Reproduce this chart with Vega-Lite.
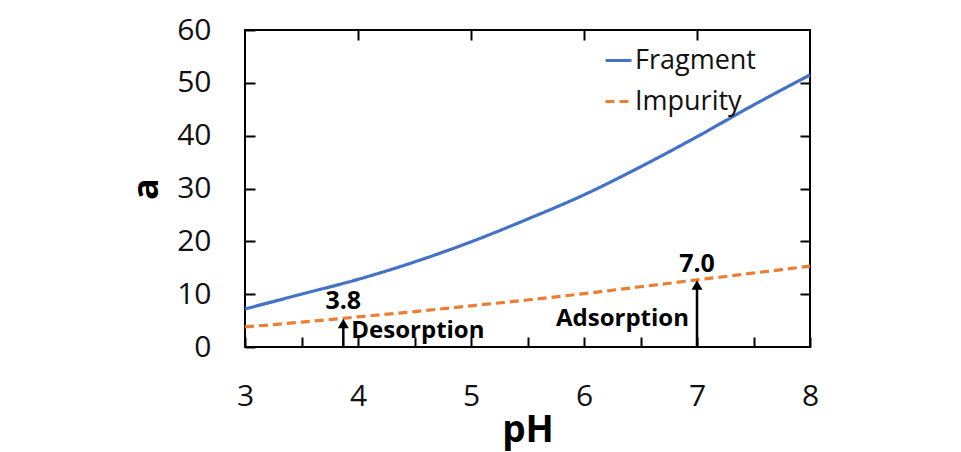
{
  "$schema": "https://vega.github.io/schema/vega-lite/v6.json",
  "width": 565,
  "height": 317,
  "autosize": {"type": "none"},
  "padding": {"left": 245, "top": 30, "right": 151, "bottom": 105},
  "background": "white",
  "config": {
    "view": {"stroke": "black", "strokeWidth": 2},
    "font": "Open Sans",
    "axis": {"grid": false, "domain": false, "tickColor": "black", "tickWidth": 2, "labelColor": "#111111", "labelFont": "Open Sans", "titleFont": "Open Sans", "titleColor": "black"}
  },
  "datasets": {
    "curves": [
      {"pH": 3.0, "a": 7.2, "series": "Fragment"},
      {"pH": 3.5, "a": 10.0, "series": "Fragment"},
      {"pH": 4.0, "a": 12.8, "series": "Fragment"},
      {"pH": 4.5, "a": 16.1, "series": "Fragment"},
      {"pH": 5.0, "a": 19.9, "series": "Fragment"},
      {"pH": 5.5, "a": 24.2, "series": "Fragment"},
      {"pH": 6.0, "a": 28.8, "series": "Fragment"},
      {"pH": 6.5, "a": 34.1, "series": "Fragment"},
      {"pH": 7.0, "a": 39.8, "series": "Fragment"},
      {"pH": 7.5, "a": 45.8, "series": "Fragment"},
      {"pH": 8.0, "a": 51.5, "series": "Fragment"},
      {"pH": 3.0, "a": 3.8, "series": "Impurity"},
      {"pH": 3.5, "a": 4.7, "series": "Impurity"},
      {"pH": 4.0, "a": 5.7, "series": "Impurity"},
      {"pH": 4.5, "a": 6.7, "series": "Impurity"},
      {"pH": 5.0, "a": 7.8, "series": "Impurity"},
      {"pH": 5.5, "a": 8.9, "series": "Impurity"},
      {"pH": 6.0, "a": 10.1, "series": "Impurity"},
      {"pH": 6.5, "a": 11.4, "series": "Impurity"},
      {"pH": 7.0, "a": 12.7, "series": "Impurity"},
      {"pH": 7.5, "a": 14.0, "series": "Impurity"},
      {"pH": 8.0, "a": 15.3, "series": "Impurity"}
    ],
    "arrows": [
      {"pH": 3.87, "base": 0, "tip": 5.4},
      {"pH": 7.0, "base": 0, "tip": 12.7}
    ],
    "numLabels": [
      {"pH": 3.87, "a": 7.2, "label": "3.8"},
      {"pH": 7.0, "a": 14.2, "label": "7.0"}
    ],
    "leftLabels": [
      {"pH": 3.87, "a": 1.7, "label": "Desorption"}
    ],
    "rightLabels": [
      {"pH": 7.0, "a": 4.0, "label": "Adsorption"}
    ]
  },
  "resolve": {"axis": {"x": "independent", "y": "independent"}},
  "layer": [
    {
      "data": {"name": "curves"},
      "mark": {"type": "line", "strokeWidth": 3.2, "interpolate": "monotone"},
      "encoding": {
        "x": {
          "field": "pH", "type": "quantitative",
          "scale": {"domain": [3, 8], "nice": false, "zero": false},
          "axis": {
            "orient": "bottom",
            "values": [3, 3.5, 4, 4.5, 5, 5.5, 6, 6.5, 7, 7.5, 8],
            "labelExpr": "datum.value % 1 ? '' : format(datum.value, 'd')",
            "labelOverlap": false,
            "labelFontSize": 30,
            "labelBaseline": "alphabetic",
            "tickSize": -10,
            "labelPadding": 68,
            "labelFlush": false,
            "title": "pH",
            "titleFontSize": 37,
            "titleFontWeight": "bold",
            "titleX": 282.5,
            "titleY": 94,
            "titleAlign": "center",
            "titleBaseline": "alphabetic"
          }
        },
        "y": {
          "field": "a", "type": "quantitative",
          "scale": {"domain": [0, 60], "nice": false},
          "axis": {
            "orient": "left",
            "values": [0, 10, 20, 30, 40, 50, 60],
            "labelFontSize": 30,
            "labelBaseline": "middle",
            "tickSize": -10,
            "labelPadding": 44,
            "labelFlush": false,
            "title": "a",
            "titleFontSize": 36,
            "titleFontWeight": "bold",
            "titleAngle": -90,
            "titleX": -99,
            "titleY": 158.5,
            "titleAlign": "center",
            "titleBaseline": "middle"
          }
        },
        "color": {
          "field": "series", "type": "nominal",
          "scale": {"domain": ["Fragment", "Impurity"], "range": ["#4472C4", "#ED7D31"]},
          "legend": {
            "orient": "none", "legendX": 359, "legendY": 16, "title": null,
            "labelFontSize": 27, "labelFont": "Open Sans", "labelColor": "#111111",
            "symbolType": "stroke", "symbolSize": 676, "symbolStrokeWidth": 3,
            "rowPadding": 13, "padding": 0, "labelOffset": 2
          }
        },
        "strokeDash": {
          "field": "series", "type": "nominal",
          "scale": {"domain": ["Fragment", "Impurity"], "range": [[1, 0], [9, 5]]},
          "legend": {
            "orient": "none", "legendX": 359, "legendY": 16, "title": null,
            "labelFontSize": 27, "labelFont": "Open Sans", "labelColor": "#111111",
            "symbolType": "stroke", "symbolSize": 676, "symbolStrokeWidth": 3,
            "rowPadding": 13, "padding": 0, "labelOffset": 2
          }
        }
      }
    },
    {
      "data": {"name": "arrows"},
      "mark": {"type": "rule", "strokeWidth": 2.5, "color": "black", "y2Offset": 6},
      "encoding": {
        "x": {
          "field": "pH", "type": "quantitative",
          "axis": {"orient": "top", "values": [4, 5, 6, 7], "labels": false, "tickSize": -10, "title": null}
        },
        "y": {
          "field": "base", "type": "quantitative",
          "axis": {"orient": "right", "values": [10, 20, 30, 40, 50], "labels": false, "tickSize": -10, "title": null}
        },
        "y2": {"field": "tip"}
      }
    },
    {
      "data": {"name": "arrows"},
      "mark": {"type": "point", "shape": "triangle-up", "filled": true, "color": "black", "size": 120, "opacity": 1, "yOffset": 5},
      "encoding": {
        "x": {"field": "pH", "type": "quantitative", "axis": null},
        "y": {"field": "tip", "type": "quantitative", "axis": null}
      }
    },
    {
      "data": {"name": "numLabels"},
      "mark": {"type": "text", "font": "Open Sans", "fontWeight": "bold", "fontSize": 25, "align": "center", "baseline": "alphabetic", "color": "black"},
      "encoding": {
        "x": {"field": "pH", "type": "quantitative", "axis": null},
        "y": {"field": "a", "type": "quantitative", "axis": null},
        "text": {"field": "label"}
      }
    },
    {
      "data": {"name": "leftLabels"},
      "mark": {"type": "text", "font": "Open Sans", "fontWeight": "bold", "fontSize": 24, "align": "left", "baseline": "alphabetic", "dx": 8, "color": "black"},
      "encoding": {
        "x": {"field": "pH", "type": "quantitative", "axis": null},
        "y": {"field": "a", "type": "quantitative", "axis": null},
        "text": {"field": "label"}
      }
    },
    {
      "data": {"name": "rightLabels"},
      "mark": {"type": "text", "font": "Open Sans", "fontWeight": "bold", "fontSize": 24, "align": "right", "baseline": "alphabetic", "dx": -8, "color": "black"},
      "encoding": {
        "x": {"field": "pH", "type": "quantitative", "axis": null},
        "y": {"field": "a", "type": "quantitative", "axis": null},
        "text": {"field": "label"}
      }
    }
  ]
}
